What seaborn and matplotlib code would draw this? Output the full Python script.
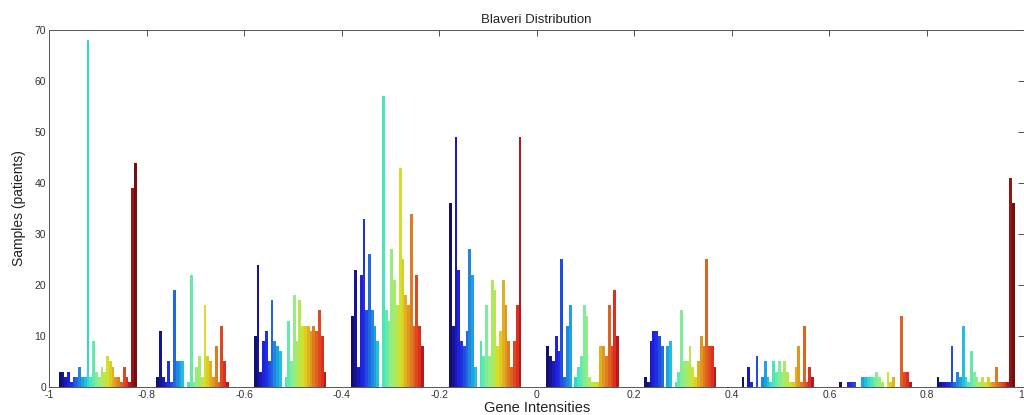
import numpy as np
import pandas as pd
import seaborn as sns
import matplotlib
matplotlib.use("Agg")
import matplotlib.pyplot as plt

# bin centres on the x axis (gene intensity)
centers = [-0.9, -0.7, -0.5, -0.3, -0.1, 0.1, 0.3, 0.5, 0.7, 0.9]

# samples per series in each bin (one list per bin, one value per series)
g1 = [3, 3, 2, 3, 1, 2, 2, 4, 2, 2, 68, 2, 9, 3, 2, 4, 3, 6, 5, 4, 2, 2, 1, 4, 2, 1, 39, 44]
g2 = [2, 11, 2, 1, 5, 1, 19, 5, 5, 5, 0, 1, 22, 1, 4, 6, 2, 16, 6, 5, 2, 8, 1, 12, 5, 1, 0, 0]
g3 = [10, 24, 3, 9, 11, 5, 17, 9, 8, 7, 0, 2, 13, 5, 18, 9, 17, 12, 12, 12, 11, 12, 11, 15, 10, 3, 0, 0]
g4 = [14, 23, 4, 22, 33, 15, 26, 15, 12, 9, 0, 57, 15, 13, 27, 21, 16, 43, 25, 18, 16, 34, 12, 22, 12, 8, 0, 0]
g5 = [36, 12, 49, 23, 9, 8, 11, 27, 22, 4, 0, 9, 6, 16, 6, 21, 19, 8, 11, 21, 16, 9, 4, 9, 16, 49, 0, 0]
g6 = [8, 6, 5, 10, 7, 25, 2, 12, 16, 0, 2, 4, 6, 16, 14, 2, 1, 1, 1, 8, 8, 6, 16, 8, 19, 10, 0, 0]
g7 = [2, 1, 9, 11, 11, 10, 8, 0, 8, 9, 0, 1, 3, 15, 5, 5, 8, 4, 2, 5, 10, 8, 25, 8, 8, 4, 0, 0]
g8 = [2, 0, 4, 1, 0, 6, 0, 2, 5, 2, 1, 5, 3, 5, 3, 5, 3, 1, 1, 4, 8, 1, 12, 1, 4, 2, 0, 0]
g9 = [1, 0, 0, 1, 1, 1, 0, 0, 2, 2, 2, 2, 2, 3, 2, 1, 0, 3, 1, 2, 0, 0, 14, 3, 3, 1, 0, 0]
g10 = [2, 1, 1, 1, 1, 8, 1, 3, 2, 12, 2, 1, 7, 3, 2, 1, 2, 1, 2, 1, 1, 4, 1, 1, 1, 1, 41, 36]

xtick_labels = ["-1", "-0.8", "-0.6", "-0.4", "-0.2", "0", "0.2", "0.4", "0.6", "0.8", "1"]

groups = [g1, g2, g3, g4, g5, g6, g7, g8, g9, g10]
n_series = len(g1)
series_names = ["s%02d" % i for i in range(n_series)]

rows = []
for c, vals in zip(centers, groups):
    for name, v in zip(series_names, vals):
        rows.append((c, name, v))
df = pd.DataFrame(rows, columns=["intensity", "series", "samples"])

sns.set_style("white")
plt.rcParams["font.family"] = ["Liberation Sans", "DejaVu Sans"]

# jet colours, one per series (like matlab's grouped bar)
jet = plt.get_cmap("jet")
palette = {name: jet(i / (n_series - 1)) for i, name in enumerate(series_names)}

fig = plt.figure(figsize=(10.24, 4.15), dpi=100)
# right edge sits at the image border, as in the cropped original
ax = fig.add_axes([0.04785, 0.0675, 0.9526, 0.8605])
sns.barplot(
    data=df, x="intensity", y="samples", hue="series",
    hue_order=series_names, palette=palette,
    native_scale=True, width=0.8, gap=0, linewidth=0,
    errorbar=None, legend=False, ax=ax,
)

ax.set_xlim(-1, 1)
ax.set_ylim(0, 70)
ax.set_xticks(np.linspace(-1, 1, len(xtick_labels)))
ax.set_xticklabels(xtick_labels)
ax.get_xticklabels()[-1].set_ha("right")
ax.set_yticks(np.arange(0, 71, 10))
ax.tick_params(direction="in", top=True, right=True, length=4, width=0.6,
               labelsize=7.5, colors="#333333", pad=2)
for s in ax.spines.values():
    s.set_color("#555555")
    s.set_linewidth(0.7)

ax.set_title("Blaveri Distribution", fontsize=9.5, color="#222222", pad=5)
ax.set_xlabel("Gene Intensities", fontsize=10.5, color="#222222", labelpad=1)
ax.set_ylabel("Samples (patients)", fontsize=10, color="#222222", labelpad=6)

fig.savefig("out.png", dpi=100)
